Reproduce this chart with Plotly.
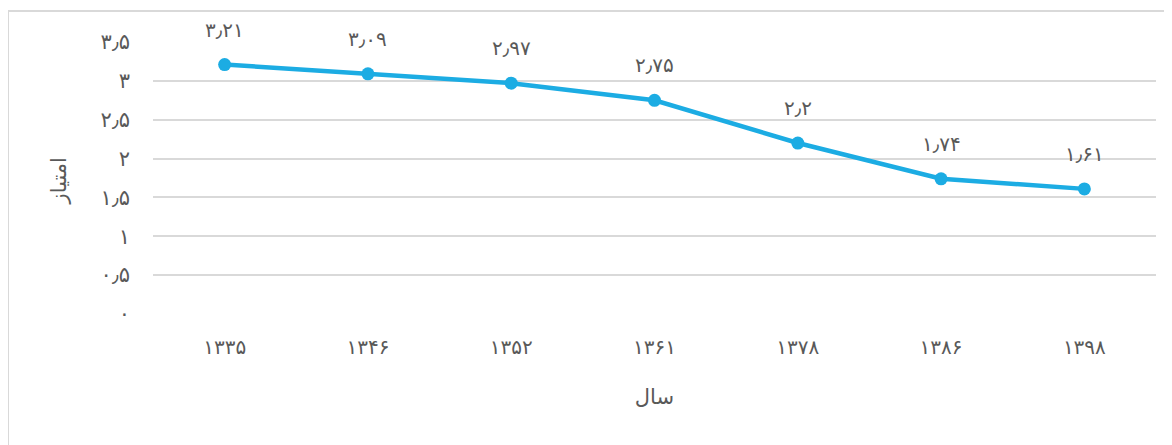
import plotly.graph_objects as go

years = ["۱۳۳۵", "۱۳۴۶", "۱۳۵۲", "۱۳۶۱", "۱۳۷۸", "۱۳۸۶", "۱۳۹۸"]
scores = [3.21, 3.09, 2.97, 2.75, 2.2, 1.74, 1.61]
score_labels = ["۳٫۲۱", "۳٫۰۹", "۲٫۹۷", "۲٫۷۵", "۲٫۲", "۱٫۷۴", "۱٫۶۱"]
y_tickvals = [0, 0.5, 1, 1.5, 2, 2.5, 3, 3.5]
y_ticktext = ["۰", "۰٫۵", "۱", "۱٫۵", "۲", "۲٫۵", "۳", "۳٫۵"]

FONT = "DejaVu Sans"
GRAY = "#595959"
BLUE = "#1CACE3"

fig = go.Figure()
fig.add_trace(go.Scatter(
    x=years, y=scores, mode="lines+markers",
    line=dict(color=BLUE, width=4.5),
    marker=dict(color=BLUE, size=13),
    hoverinfo="skip",
))

for xv, yv, t in zip(years, scores, score_labels):
    fig.add_annotation(x=xv, y=yv, text=t, showarrow=False, yshift=35,
                       font=dict(family=FONT, size=20, color=GRAY))

fig.add_annotation(text="امتیاز", xref="paper", yref="paper", x=-0.108, y=0.49,
                   textangle=-90, showarrow=False,
                   font=dict(family=FONT, size=21, color=GRAY))

# page offset of 8px (body margin) compensated in margins
L, T = 145, 34
pw, ph = 1003, 272
fig.add_shape(type="rect", xref="paper", yref="paper",
              x0=(0 - L) / pw, x1=(1185 - L) / pw,
              y0=(T + ph - 460) / ph, y1=(T + ph - 3) / ph,
              line=dict(color="#d9d9d9", width=2), layer="below")

fig.update_layout(
    width=1172, height=445,
    margin=dict(l=L, r=1172 - L - pw, t=T, b=445 - T - ph),
    paper_bgcolor="white", plot_bgcolor="white",
    showlegend=False,
    font=dict(family=FONT, color=GRAY),
    xaxis=dict(
        type="category", range=[-0.5, len(years) - 0.5],
        showgrid=False, showline=False, zeroline=False,
        ticks="", ticklabelstandoff=19,
        tickfont=dict(family=FONT, size=20, color=GRAY),
        title=dict(text="سال", font=dict(family=FONT, size=21, color=GRAY), standoff=31),
    ),
    yaxis=dict(
        range=[0, 3.5], tickvals=y_tickvals, ticktext=y_ticktext,
        showgrid=True, gridcolor="#d9d9d9", gridwidth=2,
        zeroline=False, showline=False, ticks="", ticklabelstandoff=22,
        tickfont=dict(family=FONT, size=21, color=GRAY),
    ),
)

fig.write_html("out.html")
